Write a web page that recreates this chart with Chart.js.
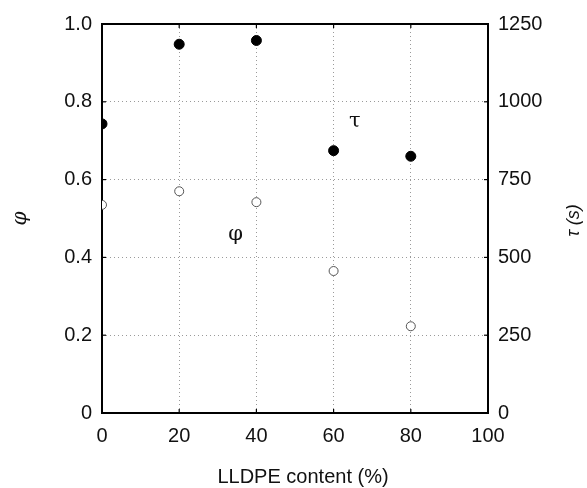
<!DOCTYPE html>
<html>
<head>
<meta charset="utf-8">
<script src="https://cdn.jsdelivr.net/npm/chart.js@4/dist/chart.umd.min.js"></script>
<style>
  html, body { margin: 0; padding: 0; background: #fff; }
  #wrap { width: 587px; height: 488px; position: relative; }
</style>
</head>
<body>
<div id="wrap"><canvas id="c" width="587" height="488"></canvas></div>
<script>
// ---- data ----
const lldpeContent = [0, 20, 40, 60, 80];
const phiValues = [0.535, 0.570, 0.542, 0.365, 0.223];
const tauValues = [929, 1185, 1197, 843, 825];
const xTicks = [0, 20, 40, 60, 80, 100];
const phiTicks = [0, 0.2, 0.4, 0.6, 0.8, 1.0];
const tauTicks = [0, 250, 500, 750, 1000, 1250];
const xTitle = 'LLDPE content (%)';
const phiTitle = 'φ';
const tauTitle = 'τ (s)';
const phiLabel = { text: 'φ', x: 34.6, y: 0.46 };
const tauLabel = { text: 'τ', x: 65.5, y: 937 };

const FONT = "'Liberation Sans', Arial, Helvetica, sans-serif";

const framePlugin = {
  id: 'frame',
  beforeDatasetsDraw(chart) {
    const { ctx, chartArea: a, scales } = chart;
    ctx.save();
    // inward tick marks
    ctx.strokeStyle = '#000';
    ctx.lineWidth = 1.2;
    const tl = 4;
    xTicks.forEach(v => {
      const x = scales.x.getPixelForValue(v);
      ctx.beginPath();
      ctx.moveTo(x, a.bottom); ctx.lineTo(x, a.bottom - tl);
      ctx.moveTo(x, a.top); ctx.lineTo(x, a.top + tl);
      ctx.stroke();
    });
    phiTicks.forEach(v => {
      const y = scales.y.getPixelForValue(v);
      ctx.beginPath();
      ctx.moveTo(a.left, y); ctx.lineTo(a.left + tl, y);
      ctx.stroke();
    });
    tauTicks.forEach(v => {
      const y = scales.y2.getPixelForValue(v);
      ctx.beginPath();
      ctx.moveTo(a.right, y); ctx.lineTo(a.right - tl, y);
      ctx.stroke();
    });
    // frame
    ctx.lineWidth = 2;
    ctx.strokeRect(a.left, a.top, a.right - a.left, a.bottom - a.top);
    ctx.restore();
  },
  afterDraw(chart) {
    const { ctx, chartArea: a, scales } = chart;
    ctx.save();
    ctx.fillStyle = '#111';
    ctx.textAlign = 'center';
    ctx.textBaseline = 'middle';
    // in-plot labels
    ctx.font = "21px 'DejaVu Serif', 'Liberation Serif', serif";
    ctx.fillText(phiLabel.text, scales.x.getPixelForValue(phiLabel.x), scales.y.getPixelForValue(phiLabel.y));
    ctx.fillText(tauLabel.text, scales.x.getPixelForValue(tauLabel.x), scales.y2.getPixelForValue(tauLabel.y));
    // x title
    ctx.font = "20px " + FONT;
    ctx.fillText(xTitle, (a.left + a.right) / 2 + 8, 477);
    // left title
    const cy = (a.top + a.bottom) / 2;
    ctx.save();
    ctx.translate(21, cy);
    ctx.rotate(-Math.PI / 2);
    ctx.font = "italic 20px 'DejaVu Serif', 'Liberation Serif', serif";
    ctx.fillText(phiTitle, 0, 0);
    ctx.restore();
    // right title
    ctx.save();
    ctx.translate(574, cy + 2);
    ctx.rotate(-Math.PI / 2);
    ctx.font = "italic 18px 'Liberation Sans', sans-serif";
    ctx.fillText(tauTitle, 0, 0);
    ctx.restore();
    ctx.restore();
  }
};

const gridStyle = {
  color: '#9a9a9a',
  lineWidth: 1,
  drawTicks: false,
};

new Chart(document.getElementById('c'), {
  type: 'scatter',
  data: {
    datasets: [
      {
        label: 'φ',
        data: lldpeContent.map((x, i) => ({ x, y: phiValues[i] })),
        yAxisID: 'y',
        pointStyle: 'circle',
        pointRadius: 4.5,
        pointBackgroundColor: '#fff',
        pointBorderColor: '#555',
        pointBorderWidth: 1,
        showLine: false,
      },
      {
        label: 'τ',
        data: lldpeContent.map((x, i) => ({ x, y: tauValues[i] })),
        yAxisID: 'y2',
        pointStyle: 'circle',
        pointRadius: 5,
        pointBackgroundColor: '#000',
        pointBorderColor: '#000',
        pointBorderWidth: 1,
        showLine: false,
      }
    ]
  },
  options: {
    responsive: false,
    animation: false,
    devicePixelRatio: 1,
    layout: { padding: { top: 24, left: 0, right: 0, bottom: 0 } },
    plugins: {
      legend: { display: false },
      tooltip: { enabled: false },
    },
    scales: {
      x: {
        type: 'linear',
        min: 0, max: 100,
        afterBuildTicks: s => { s.ticks = xTicks.map(v => ({ value: v })); },
        afterFit: s => { s.height = 75; },
        grid: { ...gridStyle, drawOnChartArea: true },
        border: { display: false, dash: [1, 3] },
        ticks: { color: '#111', font: { family: FONT, size: 20 }, padding: 11, maxRotation: 0,
          callback: v => String(v) },
      },
      y: {
        type: 'linear',
        position: 'left',
        min: 0, max: 1,
        afterBuildTicks: s => { s.ticks = phiTicks.map(v => ({ value: v })); },
        afterFit: s => { s.width = 102; },
        grid: { ...gridStyle },
        border: { display: false, dash: [1, 3] },
        ticks: {
          color: '#111', font: { family: FONT, size: 20 }, padding: 10,
          callback: v => v === 0 ? '0' : v.toFixed(1)
        },
      },
      y2: {
        type: 'linear',
        position: 'right',
        min: 0, max: 1250,
        afterBuildTicks: s => { s.ticks = tauTicks.map(v => ({ value: v })); },
        afterFit: s => { s.width = 99; },
        grid: { drawOnChartArea: false, drawTicks: false },
        border: { display: false },
        ticks: { color: '#111', font: { family: FONT, size: 20 }, padding: 10,
          callback: v => String(v) },
      }
    }
  },
  plugins: [framePlugin]
});
</script>
</body>
</html>
